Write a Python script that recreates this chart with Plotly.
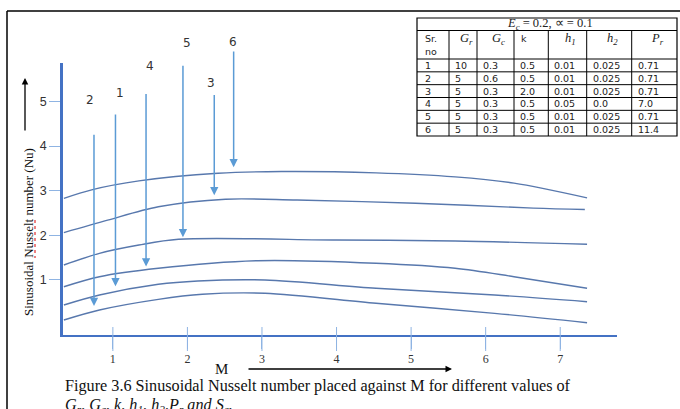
import plotly.graph_objects as go

W, H = 680, 409
ML, MR, MT, MB = 63, 63, 63, 74

# ---------------- data ----------------
# curves, labelled by the case number whose arrow points at them
x_case6 = [0.343, 0.715, 1.35, 2.41, 3.26, 4.53, 5.59, 6.38, 7.36]
nu_case6 = [2.83, 3.02, 3.22, 3.39, 3.43, 3.40, 3.31, 3.17, 2.84]

x_case3 = [0.343, 0.93, 1.61, 2.51, 3.47, 5.06, 6.64, 7.33]
nu_case3 = [2.06, 2.34, 2.64, 2.81, 2.79, 2.72, 2.61, 2.58]

x_case5 = [0.343, 0.82, 1.35, 1.88, 4.0, 5.59, 7.36]
nu_case5 = [1.334, 1.596, 1.782, 1.910, 1.894, 1.872, 1.798]

x_case4 = [0.343, 0.82, 1.61, 2.94, 4.53, 5.59, 6.38, 7.36]
nu_case4 = [0.847, 1.071, 1.26, 1.43, 1.372, 1.26, 1.071, 0.811]

x_case1 = [0.343, 0.82, 1.61, 2.14, 3.04, 4.53, 6.12, 7.36]
nu_case1 = [0.437, 0.661, 0.901, 0.975, 0.997, 0.811, 0.661, 0.511]

x_case2 = [0.343, 0.82, 1.61, 2.20, 3.04, 4.53, 6.12, 7.36]
nu_case2 = [0.10, 0.325, 0.564, 0.677, 0.699, 0.475, 0.25, 0.04]

# arrows: label, x, tail y, tip y, label x, label y
arrow_labels = ["2", "1", "4", "5", "3", "6"]
arrow_x = [0.747, 1.035, 1.445, 1.94, 2.36, 2.62]
arrow_tail = [4.29, 4.74, 5.20, 5.835, 5.18, 6.155]
arrow_tip = [0.414, 0.86, 1.30, 1.955, 2.90, 3.525]
label_x = [0.693, 1.096, 1.498, 1.998, 2.316, 2.607]
label_y = [5.034, 5.198, 5.796, 6.305, 5.409, 6.33]

x_ticks = [1, 2, 3, 4, 5, 6, 7]
y_ticks = [1, 2, 3, 4, 5]
X_RANGE = [0.3313, 7.7615]
Y_RANGE = [-0.236, 5.864]

# table
tbl_title = "<i>E<sub>c</sub></i> = 0.2, ∝ = 0.1"
tbl_sr = ["1", "2", "3", "4", "5", "6"]
tbl_Gr = ["10", "5", "5", "5", "5", "5"]
tbl_Gc = ["0.3", "0.6", "0.3", "0.3", "0.3", "0.3"]
tbl_k = ["0.5", "0.5", "2.0", "0.5", "0.5", "0.5"]
tbl_h1 = ["0.01", "0.01", "0.01", "0.05", "0.01", "0.01"]
tbl_h2 = ["0.025", "0.025", "0.025", "0.0", "0.025", "0.025"]
tbl_Pr = ["0.71", "0.71", "0.71", "7.0", "0.71", "11.4"]

# ---------------- styling ----------------
CURVE = "#5878AD"
ARROW = "#5B9BD5"
AXIS = "#4472C4"
TICK = "#8FB4E3"

PW = W - ML - MR
PH = H - MT - MB

def px(x):
    return (x - ML) / PW

def py(y):
    return (H - MB - y) / PH

def dx(v):  # data x -> paper
    return (v - X_RANGE[0]) / (X_RANGE[1] - X_RANGE[0])

def dy(v):  # data y -> paper
    return (v - Y_RANGE[0]) / (Y_RANGE[1] - Y_RANGE[0])

def note(x, y, text, font, xanchor="center", **kw):
    d = dict(x=px(x), y=py(y), xref="paper", yref="paper", text=text, showarrow=False,
             xanchor=xanchor, yanchor="middle", font=font)
    d.update(kw)
    return d

fig = go.Figure()

for xs, ys in [(x_case6, nu_case6), (x_case3, nu_case3), (x_case5, nu_case5),
               (x_case4, nu_case4), (x_case1, nu_case1), (x_case2, nu_case2)]:
    fig.add_trace(go.Scatter(x=xs, y=ys, mode="lines",
                             line=dict(color=CURVE, width=1.4, shape="spline", smoothing=0.9),
                             hoverinfo="skip", showlegend=False))

annotations = []
shapes = []

# arrows with labels
for lab, ax_, t0, t1, lx, ly in zip(arrow_labels, arrow_x, arrow_tail, arrow_tip, label_x, label_y):
    annotations.append(dict(x=ax_, y=t1, ax=ax_, ay=t0, xref="x", yref="y", axref="x", ayref="y",
                            text="", showarrow=True, arrowhead=2, arrowsize=1.1, arrowwidth=1.5,
                            arrowcolor=ARROW, standoff=0, startstandoff=0))
    annotations.append(dict(x=dx(lx), y=dy(ly), xref="paper", yref="paper", text=lab, showarrow=False,
                            xanchor="center", yanchor="middle",
                            font=dict(family="DejaVu Sans", size=12, color="#333333")))

# x ticks crossing the axis
for t in x_ticks:
    shapes.append(dict(type="line", xref="x", yref="paper", ysizemode="pixel", yanchor=0,
                       x0=t, x1=t, y0=-16, y1=8, line=dict(color=TICK, width=1)))

# y axis title + arrow
annotations.append(note(28, 232, "Sinusoidal Nusselt number (Nu)",
                        dict(family="Liberation Serif", size=13, color="#111111"), textangle=-90))
shapes.append(dict(type="line", xref="paper", yref="paper", x0=px(35), x1=px(35),
                   y0=py(220), y1=py(258), line=dict(color="#E03030", width=1.2, dash="dot")))
annotations.append(dict(x=px(25), y=py(78), ax=0, ay=54, xref="paper", yref="paper",
                        axref="pixel", ayref="pixel", text="", showarrow=True, arrowhead=2,
                        arrowsize=1, arrowwidth=1.3, arrowcolor="#000000", standoff=0))

# x axis title + arrow
annotations.append(note(221.5, 368.5, "M", dict(family="Liberation Serif", size=15, color="#111111")))
annotations.append(dict(x=px(452), y=py(369), ax=-205, ay=0, xref="paper", yref="paper",
                        axref="pixel", ayref="pixel", text="", showarrow=True, arrowhead=2,
                        arrowsize=1, arrowwidth=1.3, arrowcolor="#000000", standoff=0))

# caption
CF = dict(family="Liberation Serif", size=16.2, color="#111111")
annotations.append(note(63, 386, "Figure 3.6 Sinusoidal Nusselt number placed against M for different values of",
                        CF, xanchor="left"))
annotations.append(note(63, 405, "<i>G<sub>r</sub>, G<sub>c</sub>, k, h<sub>1</sub>, h<sub>2</sub>,P<sub>r</sub> and S<sub>c</sub>.</i>",
                        CF, xanchor="left"))

# frame
shapes.append(dict(type="line", xref="paper", yref="paper", x0=px(7), x1=px(680), y0=py(11), y1=py(11),
                   line=dict(color="#000000", width=1.5)))
shapes.append(dict(type="line", xref="paper", yref="paper", x0=px(7), x1=px(7), y0=py(11), y1=py(409),
                   line=dict(color="#000000", width=1.5)))

# ---------------- table ----------------
col_edges = [417, 449, 477, 514, 548.3, 586.7, 631.7, 677]
top, head1, head2, bottom = 18, 30.5, 59, 136
row_h = (bottom - head2) / len(tbl_sr)
line_k = dict(color="#000000", width=1)
shapes.append(dict(type="rect", xref="paper", yref="paper", x0=px(col_edges[0]), x1=px(col_edges[-1]),
                   y0=py(top), y1=py(bottom), line=dict(color="#000000", width=1.2)))
shapes.append(dict(type="line", xref="paper", yref="paper", x0=px(col_edges[0]), x1=px(col_edges[-1]),
                   y0=py(head1), y1=py(head1), line=line_k))
for i in range(len(tbl_sr)):
    yy = head2 + i * row_h
    shapes.append(dict(type="line", xref="paper", yref="paper", x0=px(col_edges[0]), x1=px(col_edges[-1]),
                       y0=py(yy), y1=py(yy), line=line_k))
for ce in col_edges[1:-1]:
    shapes.append(dict(type="line", xref="paper", yref="paper", x0=px(ce), x1=px(ce),
                       y0=py(head1), y1=py(bottom), line=line_k))

TF = dict(family="DejaVu Sans", size=9.5, color="#222222")
MF = dict(family="Liberation Serif", size=12.5, color="#222222")
annotations.append(note((col_edges[0] + col_edges[-1]) / 2 + 3, 24, tbl_title, MF))
annotations.append(note(col_edges[0] + 6, 38.3, "Sr.", TF, xanchor="left"))
annotations.append(note(col_edges[0] + 6, 51.7, "no", TF, xanchor="left"))
annotations.append(note(col_edges[3] + 5, 38.3, "k", TF, xanchor="left"))
for ci, h in [(1, "<i>G<sub>r</sub></i>"), (2, "<i>G<sub>c</sub></i>"), (4, "<i>h<sub>1</sub></i>"),
              (5, "<i>h<sub>2</sub></i>"), (6, "<i>P<sub>r</sub></i>")]:
    annotations.append(note((col_edges[ci] + col_edges[ci + 1]) / 2 + 3, 39, h, MF))
cols = [tbl_sr, tbl_Gr, tbl_Gc, tbl_k, tbl_h1, tbl_h2, tbl_Pr]
for ci, col in enumerate(cols):
    for ri, val in enumerate(col):
        annotations.append(note(col_edges[ci] + (6 if ci == 0 else 4), head2 + (ri + 0.5) * row_h,
                                val, TF, xanchor="left"))

fig.update_layout(
    width=W, height=H,
    margin=dict(l=ML, r=MR, t=MT, b=MB, pad=0),
    paper_bgcolor="white", plot_bgcolor="white",
    showlegend=False,
    xaxis=dict(range=X_RANGE, tickvals=x_ticks, ticktext=[str(t) for t in x_ticks],
               showgrid=False, zeroline=False, showline=True, linecolor=AXIS, linewidth=2,
               ticks="outside", ticklen=12, tickcolor=TICK, tickwidth=1,
               tickfont=dict(family="Liberation Serif", size=12, color="#333333")),
    yaxis=dict(range=Y_RANGE, tickvals=y_ticks, ticktext=[str(t) for t in y_ticks],
               showgrid=False, zeroline=False, showline=True, linecolor=AXIS, linewidth=2.5,
               ticks="outside", ticklen=11, tickcolor=TICK, tickwidth=1,
               tickfont=dict(family="Liberation Sans", size=12.5, color="#333333")),
    annotations=annotations,
    shapes=shapes,
)

fig.write_html("out.html", config={"displayModeBar": False},
               post_script="document.body.style.margin='0';document.body.style.padding='0';")
